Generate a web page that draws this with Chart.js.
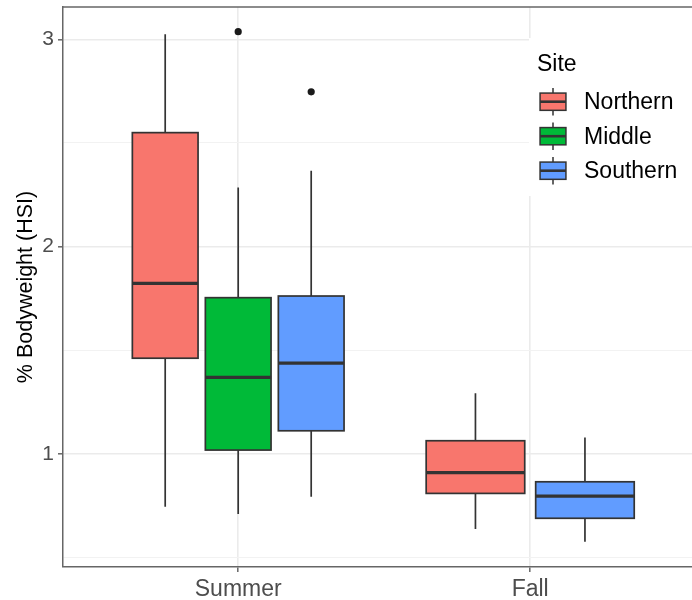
<!DOCTYPE html>
<html>
<head>
<meta charset="utf-8">
<script src="https://cdn.jsdelivr.net/npm/chart.js@4/dist/chart.umd.min.js"></script>
<style>
  html, body { margin: 0; padding: 0; background: #ffffff; }
  canvas { display: block; }
</style>
</head>
<body>
<canvas id="hsi" width="692" height="600"></canvas>
<script>
// Hepatosomatic index by season and sampling site
const seasons = ['Summer', 'Fall'];
const sites = ['Northern', 'Middle', 'Southern'];
const siteColors = ['#F8766D', '#00BA38', '#619CFF'];

// Box statistics, one row per site, one entry per season (null = not sampled)
const whiskerLow  = [[0.746, 0.638], [0.711, null], [0.794, 0.577]];
const quartile1   = [[1.462, 0.810], [1.019, null], [1.112, 0.690]];
const medians     = [[1.823, 0.910], [1.370, null], [1.438, 0.797]];
const quartile3   = [[2.550, 1.064], [1.754, null], [1.762, 0.866]];
const whiskerHigh = [[3.024, 1.293], [2.286, null], [2.366, 1.080]];
const outliers    = [[[], []], [[3.037], []], [[2.747], []]];

const yTicks = [1, 2, 3];

// Dodged position of a site's box within its season group
const GROUP_WIDTH = 0.75;
function boxSlot(siteIdx, seasonIdx) {
  const present = sites.map((_, i) => i).filter(i => medians[i][seasonIdx] !== null);
  const k = present.indexOf(siteIdx);
  const slot = GROUP_WIDTH / present.length;
  return {
    center: seasonIdx + 1 - GROUP_WIDTH / 2 + slot * (k + 0.5),
    width: slot * 0.9
  };
}

const outlierPoints = [];
sites.forEach((_, s) => seasons.forEach((_, t) => {
  outliers[s][t].forEach(v => outlierPoints.push({ x: boxSlot(s, t).center, y: v }));
}));

const INK = '#333333';

// Fixed axis sizes, without the automatic label-overflow padding
function fixAxis(size) {
  return scale => {
    if (scale.isHorizontal()) scale.height = size; else scale.width = size;
    scale.paddingTop = 0; scale.paddingBottom = 0;
    scale.paddingLeft = 0; scale.paddingRight = 0;
  };
}

const boxPlugin = {
  id: 'boxes',
  beforeDatasetsDraw(chart) {
    const { ctx, scales: { x, y }, chartArea } = chart;
    ctx.save();
    ctx.beginPath();
    ctx.rect(chartArea.left, chartArea.top, chartArea.right - chartArea.left, chartArea.bottom - chartArea.top);
    ctx.clip();
    sites.forEach((_, s) => seasons.forEach((_, t) => {
      if (medians[s][t] === null) return;
      const { center, width } = boxSlot(s, t);
      const cx = x.getPixelForValue(center);
      const x0 = x.getPixelForValue(center - width / 2);
      const x1 = x.getPixelForValue(center + width / 2);
      const yLo = y.getPixelForValue(whiskerLow[s][t]);
      const yQ1 = y.getPixelForValue(quartile1[s][t]);
      const yMed = y.getPixelForValue(medians[s][t]);
      const yQ3 = y.getPixelForValue(quartile3[s][t]);
      const yHi = y.getPixelForValue(whiskerHigh[s][t]);

      ctx.strokeStyle = INK;
      ctx.lineWidth = 1.7;
      ctx.beginPath();
      ctx.moveTo(cx, yHi); ctx.lineTo(cx, yQ3);
      ctx.moveTo(cx, yQ1); ctx.lineTo(cx, yLo);
      ctx.stroke();

      ctx.fillStyle = siteColors[s];
      ctx.fillRect(x0, yQ3, x1 - x0, yQ1 - yQ3);
      ctx.strokeRect(x0, yQ3, x1 - x0, yQ1 - yQ3);

      ctx.lineWidth = 3.2;
      ctx.beginPath();
      ctx.moveTo(x0, yMed); ctx.lineTo(x1, yMed);
      ctx.stroke();
    }));
    ctx.restore();
  },
  afterDraw(chart) {
    const { ctx, chartArea } = chart;
    ctx.save();
    // panel border along the top
    ctx.strokeStyle = '#666666';
    ctx.lineWidth = 1.5;
    ctx.beginPath();
    ctx.moveTo(chartArea.left, chartArea.top);
    ctx.lineTo(chartArea.right, chartArea.top);
    ctx.stroke();

    // legend
    const lx = 529, ly = 38;
    ctx.fillStyle = '#ffffff';
    ctx.fillRect(lx, ly, chartArea.right - lx, 158);
    ctx.fillStyle = '#000000';
    ctx.font = '23px "Liberation Sans", Arial, sans-serif';
    ctx.textBaseline = 'middle';
    ctx.textAlign = 'left';
    ctx.fillText('Site', 537, 65);

    const keySize = 34.5;
    const keyCx = 553;
    sites.forEach((name, i) => {
      const cy = 101.7 + i * keySize;
      const top = cy - keySize / 2;
      ctx.strokeStyle = INK;
      ctx.lineWidth = 1.5;
      ctx.beginPath();
      ctx.moveTo(keyCx, top + keySize * 0.1); ctx.lineTo(keyCx, top + keySize * 0.25);
      ctx.moveTo(keyCx, top + keySize * 0.75); ctx.lineTo(keyCx, top + keySize * 0.9);
      ctx.stroke();
      const bw = keySize * 0.75, bh = keySize * 0.5;
      ctx.fillStyle = siteColors[i];
      ctx.fillRect(keyCx - bw / 2, cy - bh / 2, bw, bh);
      ctx.strokeRect(keyCx - bw / 2, cy - bh / 2, bw, bh);
      ctx.lineWidth = 2.6;
      ctx.beginPath();
      ctx.moveTo(keyCx - bw / 2, cy); ctx.lineTo(keyCx + bw / 2, cy);
      ctx.stroke();
      ctx.fillStyle = '#000000';
      ctx.fillText(name, 584, cy + 1);
    });
    ctx.restore();
  }
};

const FONT = '"Liberation Sans", Arial, sans-serif';

new Chart(document.getElementById('hsi'), {
  type: 'scatter',
  data: {
    datasets: [{
      label: 'Outliers',
      data: outlierPoints,
      pointRadius: 3.6,
      pointBackgroundColor: '#1a1a1a',
      pointBorderColor: '#1a1a1a',
      pointBorderWidth: 0
    }]
  },
  options: {
    responsive: false,
    animation: false,
    layout: { autoPadding: false, padding: { top: 7, right: 0, bottom: 0, left: 0 } },
    plugins: { legend: { display: false }, tooltip: { enabled: false } },
    scales: {
      x: {
        type: 'linear',
        min: 0.4,
        max: 0.4 + 629 / 292,
        afterBuildTicks(scale) { scale.ticks = seasons.map((_, i) => ({ value: i + 1 })); },
        afterFit: fixAxis(33),
        ticks: {
          callback: v => seasons[v - 1] || '',
          color: '#4D4D4D',
          font: { family: FONT, size: 23 },
          padding: 4,
          maxRotation: 0
        },
        grid: { color: '#EBEBEB', lineWidth: 1.6, tickLength: 5, tickColor: '#666666', tickWidth: 1.5 },
        border: { display: true, color: '#666666', width: 1.5 }
      },
      y: {
        type: 'linear',
        min: 0.455,
        max: 3.156,
        afterBuildTicks(scale) {
          const all = [];
          yTicks.forEach(v => { all.push(v - 0.5); all.push(v); });
          scale.ticks = all.map(v => ({ value: v }));
        },
        afterFit: fixAxis(63),
        ticks: {
          callback: v => (yTicks.includes(v) ? String(v) : ''),
          color: '#4D4D4D',
          font: { family: FONT, size: 21 },
          padding: 4
        },
        grid: {
          color: c => (yTicks.includes(c.tick.value) ? '#EBEBEB' : '#F2F2F2'),
          lineWidth: c => (yTicks.includes(c.tick.value) ? 1.6 : 1.1),
          tickLength: 5,
          tickColor: c => (yTicks.includes(c.tick.value) ? '#666666' : 'rgba(0,0,0,0)'),
          tickWidth: 1.5
        },
        border: { display: true, color: '#666666', width: 1.5 },
        title: {
          display: true,
          text: '% Bodyweight (HSI)',
          color: '#000000',
          font: { family: FONT, size: 21.5, weight: 'normal' },
          padding: { top: 13, bottom: 0 }
        }
      }
    }
  },
  plugins: [boxPlugin]
});
</script>
</body>
</html>
